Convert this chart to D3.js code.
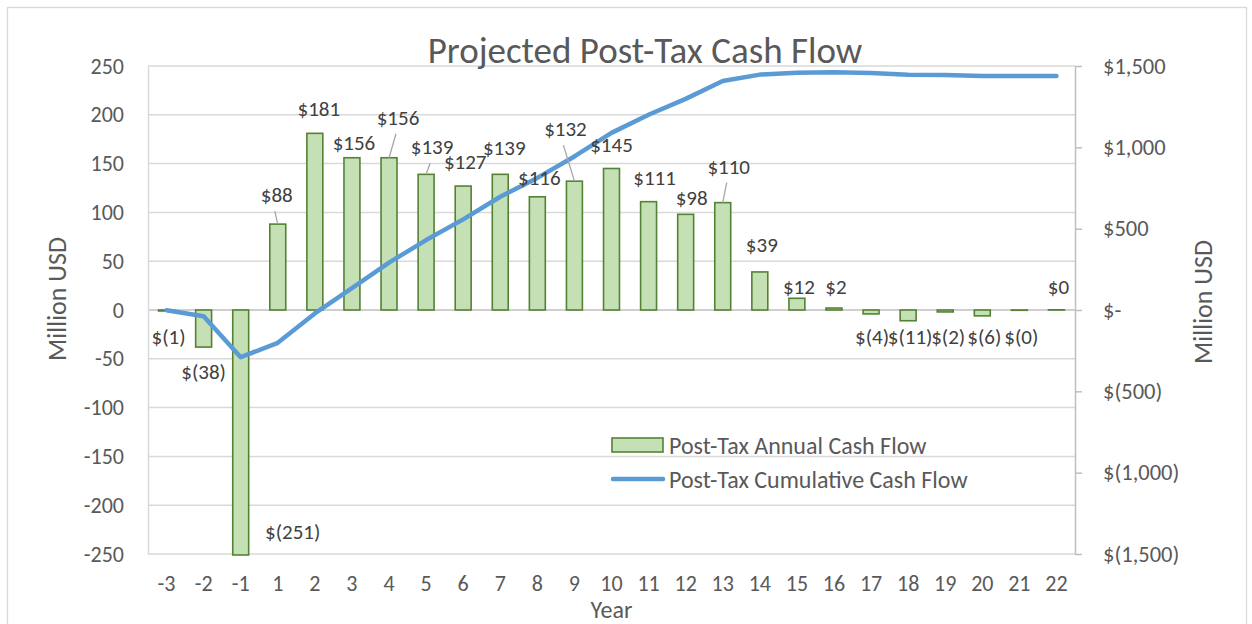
<!DOCTYPE html>
<html>
<head>
<meta charset="utf-8">
<script src="https://cdn.jsdelivr.net/npm/d3@7/dist/d3.min.js"></script>
<style>
  body { margin: 0; background: #fff; }
  svg text { font-family: Calibri, Carlito, Lato, "Open Sans", sans-serif; }
</style>
</head>
<body>
<svg id="chart" width="1252" height="624"></svg>
<script>
// years on the x axis
var years = ['-3', '-2', '-1', '1', '2', '3', '4', '5', '6', '7', '8', '9', '10',
    '11', '12', '13', '14', '15', '16', '17', '18', '19', '20', '21', '22'];
// post-tax annual cash flow (million USD, left axis)
var annual = [-1, -38, -251, 88, 181, 156, 156, 139, 127, 139, 116, 132, 145,
    111, 98, 110, 39, 12, 2, -4, -11, -2, -6, -0.3, 0.2];
// post-tax cumulative cash flow (million USD, right axis)
var cumulative = [-1, -39, -290, -202, -21, 135, 291, 430, 557, 696, 812, 944, 1089,
    1200, 1298, 1408, 1447, 1459, 1461, 1457, 1446, 1444, 1438, 1438, 1438];
var leftTicks = [250, 200, 150, 100, 50, 0, -50, -100, -150, -200, -250];
var rightTicks = [1500, 1000, 500, 0, -500, -1000, -1500];

// label nudges (px) relative to bar end, excel placed them by hand
var labelNudge = [[2, 26], [0, 25], [52, -23], [-1, -29], [4, -24], [2, -15], [9, -40],
    [6, -27], [2, -24], [4, -26], [2, -19], [-9, -52], [0, -23], [6, -24], [6, -16],
    [6, -36], [2, -27], [2, -11], [2, -21], [1, 23], [2, 16], [3, 25], [2, 21], [2, 27], [2, -23]];
var leaders = [3, 6, 7, 11, 15];

var svg = d3.select('#chart');
var plot = {l: 148, r: 1075, t: 66, b: 554};
var textColor = '#595959';

// outer frame
svg.append('rect')
    .attr('x', 7.5).attr('y', 7.5)
    .attr('width', 1239).attr('height', 640)
    .attr('fill', 'none')
    .attr('stroke', '#d9d9d9')
    .attr('stroke-width', 1.3);

var xScale = d3.scaleBand().domain(years).range([plot.l, plot.r]).padding(0);
var yLeft = d3.scaleLinear().domain([-250, 250]).range([plot.b, plot.t]);
var yRight = d3.scaleLinear().domain([-1500, 1500]).range([plot.b, plot.t]);
var barW = xScale.bandwidth() * 0.43;

function money(v) {
    var n = d3.format(',')(Math.round(Math.abs(v)));
    if (v < 0) return '$(' + n + ')';
    return '$' + n;
}
function moneyAxis(v) {
    if (v == 0) return '$-';
    return money(v);
}

// gridlines
svg.append('g')
    .selectAll('line')
    .data(leftTicks)
    .enter()
    .append('line')
    .attr('x1', plot.l).attr('x2', plot.r)
    .attr('y1', function(d) { return yLeft(d); })
    .attr('y2', function(d) { return yLeft(d); })
    .attr('stroke', function(d) { return d == 0 ? '#bfbfbf' : '#d9d9d9'; })
    .attr('stroke-width', 1.5);

// left axis
var leftAxis = svg.append('g')
    .attr('transform', 'translate(' + [plot.l, 0] + ')')
    .call(d3.axisLeft(yLeft).tickValues(leftTicks).tickFormat(function(d) { return String(d); })
        .tickSize(0).tickPadding(24));
leftAxis.select('.domain').attr('stroke', '#d9d9d9').attr('stroke-width', 1.5);
leftAxis.selectAll('text').attr('fill', textColor).style('font-size', '22px');

// right axis
var rightAxis = svg.append('g')
    .attr('transform', 'translate(' + [plot.r, 0] + ')')
    .call(d3.axisRight(yRight).tickValues(rightTicks).tickFormat(moneyAxis)
        .tickSizeInner(7).tickSizeOuter(0).tickPadding(21));
rightAxis.select('.domain').attr('stroke', '#bfbfbf').attr('stroke-width', 1.5);
rightAxis.selectAll('line').attr('stroke', '#bfbfbf').attr('stroke-width', 1.5);
rightAxis.selectAll('text').attr('fill', textColor).style('font-size', '22.5px');

// x axis labels
var xAxis = svg.append('g')
    .attr('transform', 'translate(' + [0, plot.b] + ')')
    .call(d3.axisBottom(xScale).tickSize(0).tickPadding(21));
xAxis.select('.domain').remove();
xAxis.selectAll('text').attr('fill', textColor).style('font-size', '22px');

// bars
svg.append('g')
    .selectAll('rect')
    .data(annual)
    .enter()
    .append('rect')
    .attr('x', function(d, i) { return xScale(years[i]) + xScale.bandwidth() / 2 - barW / 2; })
    .attr('y', function(d) { return yLeft(Math.max(d, 0)); })
    .attr('width', barW)
    .attr('height', function(d) { return Math.abs(yLeft(d) - yLeft(0)); })
    .attr('fill', '#c5e0b4')
    .attr('stroke', '#548235')
    .attr('stroke-width', 1.6);

// cumulative line
var line = d3.line()
    .x(function(d, i) { return xScale(years[i]) + xScale.bandwidth() / 2; })
    .y(function(d) { return yRight(d); });
svg.append('path')
    .datum(cumulative)
    .attr('d', line)
    .attr('fill', 'none')
    .attr('stroke', '#5b9bd5')
    .attr('stroke-width', 4.5)
    .attr('stroke-linejoin', 'round')
    .attr('stroke-linecap', 'round');

// data labels
function labelX(i) { return xScale(years[i]) + xScale.bandwidth() / 2 + labelNudge[i][0]; }
function labelY(i) { return yLeft(annual[i]) + labelNudge[i][1]; }

svg.append('g')
    .selectAll('line')
    .data(leaders)
    .enter()
    .append('line')
    .attr('x1', function(i) { return labelX(i) - 2; })
    .attr('y1', function(i) { return labelY(i) + 16; })
    .attr('x2', function(i) { return xScale(years[i]) + xScale.bandwidth() / 2; })
    .attr('y2', function(i) { return yLeft(annual[i]); })
    .attr('stroke', '#a6a6a6')
    .attr('stroke-width', 1.3);

svg.append('g')
    .selectAll('text')
    .data(annual)
    .enter()
    .append('text')
    .attr('x', function(d, i) { return labelX(i); })
    .attr('y', function(d, i) { return labelY(i); })
    .attr('text-anchor', 'middle')
    .attr('dominant-baseline', 'central')
    .attr('fill', '#404040')
    .style('font-size', '21px')
    .text(money);

// title
svg.append('text')
    .attr('x', 645).attr('y', 63)
    .attr('text-anchor', 'middle')
    .attr('fill', textColor)
    .style('font-size', '37px')
    .text('Projected Post-Tax Cash Flow');

// axis titles
svg.append('text')
    .attr('transform', 'translate(' + [57, 299] + ') rotate(-90)')
    .attr('text-anchor', 'middle')
    .attr('dominant-baseline', 'central')
    .attr('fill', textColor)
    .style('font-size', '26px')
    .text('Million USD');
svg.append('text')
    .attr('transform', 'translate(' + [1203, 302] + ') rotate(-90)')
    .attr('text-anchor', 'middle')
    .attr('dominant-baseline', 'central')
    .attr('fill', textColor)
    .style('font-size', '26px')
    .text('Million USD');
svg.append('text')
    .attr('x', (plot.l + plot.r) / 2).attr('y', 618)
    .attr('text-anchor', 'middle')
    .attr('fill', textColor)
    .style('font-size', '24px')
    .text('Year');

// legend
var legend = svg.append('g').attr('transform', 'translate(' + [612, 445] + ')');
legend.append('rect')
    .attr('x', 0).attr('y', -7)
    .attr('width', 51).attr('height', 14)
    .attr('fill', '#c5e0b4')
    .attr('stroke', '#548235')
    .attr('stroke-width', 1.6);
legend.append('line')
    .attr('x1', 1).attr('x2', 51)
    .attr('y1', 34).attr('y2', 34)
    .attr('stroke', '#5b9bd5')
    .attr('stroke-width', 4.5)
    .attr('stroke-linecap', 'round');
legend.selectAll('.legText')
    .data(['Post-Tax Annual Cash Flow', 'Post-Tax Cumulative Cash Flow'])
    .enter()
    .append('text')
    .attr('class', 'legText')
    .attr('x', 57)
    .attr('y', function(d, i) { return i * 34; })
    .attr('dominant-baseline', 'central')
    .attr('fill', textColor)
    .style('font-size', '24px')
    .text(function(d) { return d; });
</script>
</body>
</html>
